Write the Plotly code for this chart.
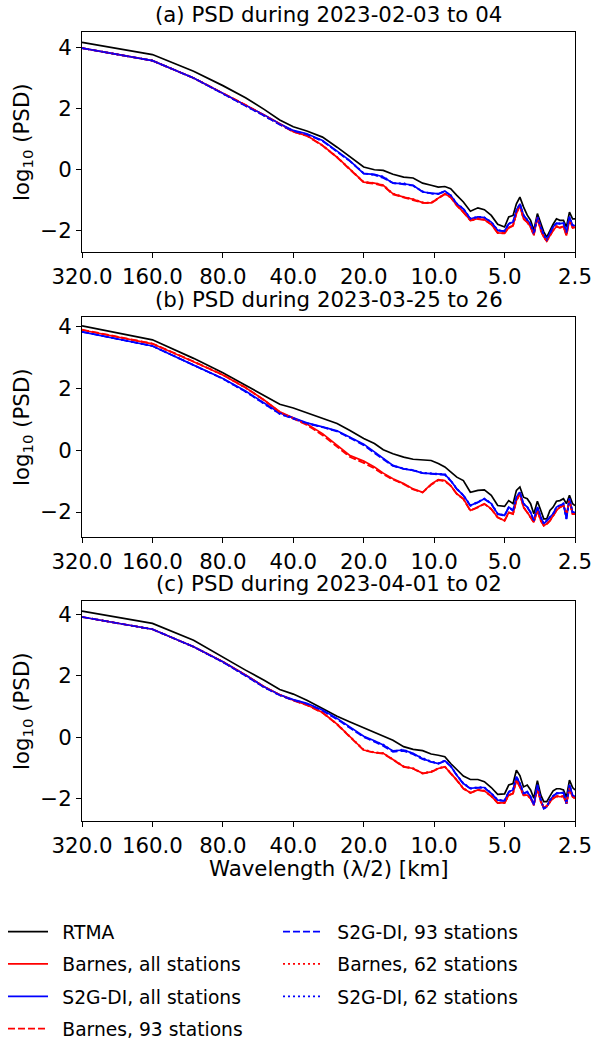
import math
import plotly.graph_objects as go

# ---------------- data ----------------
wavelength_km = [320, 160, 106.7, 80, 64, 53.3, 45.7, 40, 35, 30, 26, 23, 20, 18, 16.5, 15, 13.5,
                 12.3, 11.2, 10.3, 9.6, 9.0, 8.5, 8.0, 7.5, 7.0, 6.5, 6.1, 5.7, 5.35, 5.0, 4.8, 4.6,
                 4.45, 4.3, 4.15, 4.0, 3.87, 3.75, 3.62, 3.5, 3.4, 3.3, 3.2, 3.1, 3.0, 2.9, 2.8, 2.72,
                 2.64, 2.56, 2.5]

x_tick_vals = [320, 160, 80, 40, 20, 10, 5, 2.5]
x_tick_text = ["320.0", "160.0", "80.0", "40.0", "20.0", "10.0", "5.0", "2.5"]
y_tick_vals = [-2, 0, 2, 4]
y_tick_text = ["\u22122", "0", "2", "4"]

series_names = ["RTMA", "Barnes, all stations", "S2G-DI, all stations", "Barnes, 93 stations",
                "S2G-DI, 93 stations", "Barnes, 62 stations", "S2G-DI, 62 stations"]

panel_titles = ["(a) PSD during 2023-02-03 to 04",
                "(b) PSD during 2023-03-25 to 26",
                "(c) PSD during 2023-04-01 to 02"]

# ---- panel (a)
rtma_a = [4.17, 3.77, 3.22, 2.75, 2.35, 1.97, 1.62, 1.40, 1.26, 1.06, 0.73, 0.43, 0.08, -0.01, -0.03, -0.16, -0.25,
          -0.28, -0.45, -0.52, -0.58, -0.56, -0.63, -0.85, -1.07, -1.37, -1.26, -1.32, -1.51, -1.80, -1.89, -1.56, -1.51,
          -1.13, -0.91, -1.23, -1.50, -1.67, -2.00, -1.45, -1.75, -2.05, -2.22, -2.00, -1.80, -1.62, -1.67, -1.67, -1.89,
          -1.40, -1.62, -1.62]
barnes_a = [3.98, 3.57, 3.00, 2.50, 2.13, 1.79, 1.50, 1.24, 1.11, 0.79, 0.40, 0.02, -0.42, -0.45, -0.52, -0.80, -0.91,
            -0.98, -1.09, -1.10, -0.95, -0.80, -0.91, -1.18, -1.40, -1.67, -1.62, -1.65, -1.80, -2.08, -2.09, -1.91, -1.84,
            -1.45, -1.18, -1.62, -1.73, -1.89, -2.16, -1.58, -2.00, -2.22, -2.35, -2.16, -2.00, -1.87, -1.91, -1.87, -2.17,
            -1.67, -1.91, -1.89]
s2g_a = [3.98, 3.57, 3.00, 2.50, 2.13, 1.79, 1.50, 1.28, 1.17, 0.95, 0.60, 0.30, -0.14, -0.16, -0.25, -0.45, -0.47,
         -0.52, -0.74, -0.78, -0.80, -0.71, -0.85, -1.13, -1.29, -1.62, -1.56, -1.58, -1.73, -2.00, -2.02, -1.78, -1.73,
         -1.34, -1.13, -1.50, -1.66, -1.80, -2.11, -1.56, -1.90, -2.15, -2.30, -2.11, -1.89, -1.76, -1.78, -1.76, -2.08,
         -1.56, -1.84, -1.84]
barnes93_a = [3.98, 3.57, 3.00, 2.50, 2.12, 1.77, 1.48, 1.23, 1.10, 0.78, 0.39, 0.00, -0.43, -0.47, -0.54, -0.82, -0.92,
              -0.99, -1.10, -1.11, -0.97, -0.82, -0.92, -1.19, -1.41, -1.68, -1.63, -1.66, -1.81, -2.09, -2.10, -1.92, -1.85,
              -1.46, -1.19, -1.63, -1.74, -1.90, -2.17, -1.59, -2.01, -2.23, -2.36, -2.17, -2.01, -1.88, -1.92, -1.88, -2.18,
              -1.68, -1.92, -1.90]
s2g93_a = [3.98, 3.57, 3.00, 2.49, 2.11, 1.76, 1.47, 1.26, 1.15, 0.93, 0.58, 0.28, -0.13, -0.18, -0.28, -0.44, -0.49,
           -0.53, -0.73, -0.79, -0.81, -0.72, -0.86, -1.14, -1.30, -1.63, -1.57, -1.59, -1.74, -2.01, -2.03, -1.79, -1.74,
           -1.35, -1.14, -1.51, -1.67, -1.81, -2.12, -1.57, -1.91, -2.16, -2.31, -2.12, -1.90, -1.77, -1.79, -1.77, -2.09,
           -1.57, -1.85, -1.85]
barnes62_a = [3.98, 3.57, 3.00, 2.49, 2.12, 1.78, 1.49, 1.24, 1.11, 0.79, 0.41, 0.02, -0.41, -0.44, -0.51, -0.79, -0.90,
              -0.97, -1.08, -1.09, -0.95, -0.80, -0.90, -1.17, -1.39, -1.66, -1.61, -1.64, -1.79, -2.07, -2.08, -1.90, -1.83,
              -1.44, -1.17, -1.61, -1.72, -1.88, -2.15, -1.57, -1.99, -2.21, -2.34, -2.15, -1.99, -1.86, -1.90, -1.86, -2.16,
              -1.66, -1.90, -1.88]
s2g62_a = [3.98, 3.57, 3.00, 2.49, 2.11, 1.76, 1.47, 1.26, 1.15, 0.94, 0.59, 0.29, -0.12, -0.19, -0.23, -0.46, -0.45,
           -0.54, -0.72, -0.80, -0.79, -0.73, -0.84, -1.12, -1.28, -1.61, -1.55, -1.57, -1.72, -1.99, -2.01, -1.77, -1.72,
           -1.33, -1.12, -1.49, -1.65, -1.79, -2.10, -1.55, -1.89, -2.14, -2.29, -2.10, -1.88, -1.75, -1.77, -1.75, -2.07,
           -1.55, -1.83, -1.83]

# ---- panel (b)
rtma_b = [4.03, 3.58, 2.98, 2.51, 2.11, 1.76, 1.49, 1.37, 1.21, 1.05, 0.87, 0.65, 0.38, 0.22, 0.02, -0.11, -0.22,
          -0.29, -0.30, -0.33, -0.43, -0.54, -0.70, -0.87, -0.98, -1.36, -1.30, -1.28, -1.46, -1.79, -1.82, -1.63, -1.73,
          -1.30, -1.19, -1.52, -1.57, -1.73, -2.06, -1.65, -1.95, -2.22, -2.22, -1.95, -1.84, -1.65, -1.63, -1.57, -1.73,
          -1.46, -1.73, -1.79]
barnes_b = [3.90, 3.45, 2.87, 2.44, 2.03, 1.63, 1.25, 1.05, 0.85, 0.54, 0.16, -0.16, -0.35, -0.54, -0.74, -0.92, -1.08,
            -1.25, -1.36, -1.10, -0.95, -0.98, -1.14, -1.41, -1.57, -1.95, -1.84, -1.73, -1.90, -2.17, -2.28, -2.01, -2.06,
            -1.63, -1.41, -1.84, -2.01, -2.17, -2.33, -1.95, -2.28, -2.44, -2.38, -2.28, -2.11, -1.95, -1.84, -1.79, -2.06,
            -1.63, -2.06, -2.06]
s2g_b = [3.84, 3.38, 2.76, 2.33, 1.92, 1.54, 1.21, 1.05, 0.89, 0.76, 0.63, 0.43, 0.20, -0.05, -0.27, -0.49, -0.60,
         -0.65, -0.74, -0.76, -0.76, -0.78, -0.98, -1.25, -1.46, -1.79, -1.68, -1.57, -1.73, -2.06, -2.11, -1.84, -1.95,
         -1.52, -1.36, -1.73, -1.84, -2.01, -2.28, -1.84, -2.17, -2.38, -2.28, -2.17, -2.06, -1.84, -1.79, -1.73, -2.22,
         -1.57, -2.01, -2.01]
barnes93_b = [3.91, 3.46, 2.88, 2.45, 2.04, 1.62, 1.23, 1.02, 0.82, 0.49, 0.11, -0.21, -0.41, -0.59, -0.78, -0.95, -1.10,
              -1.27, -1.37, -1.12, -0.97, -1.00, -1.15, -1.42, -1.58, -1.96, -1.85, -1.74, -1.91, -2.18, -2.29, -2.02, -2.07,
              -1.64, -1.42, -1.85, -2.02, -2.18, -2.34, -1.96, -2.29, -2.45, -2.39, -2.29, -2.12, -1.96, -1.85, -1.80, -2.07,
              -1.64, -2.07, -2.07]
s2g93_b = [3.84, 3.38, 2.76, 2.32, 1.90, 1.51, 1.18, 1.02, 0.87, 0.75, 0.61, 0.41, 0.16, -0.09, -0.29, -0.51, -0.60,
           -0.65, -0.74, -0.77, -0.78, -0.80, -0.99, -1.26, -1.47, -1.80, -1.69, -1.58, -1.74, -2.07, -2.12, -1.85, -1.96,
           -1.53, -1.37, -1.74, -1.85, -2.02, -2.29, -1.85, -2.18, -2.39, -2.29, -2.18, -2.07, -1.85, -1.80, -1.74, -2.23,
           -1.58, -2.02, -2.02]
barnes62_b = [3.90, 3.45, 2.87, 2.44, 2.02, 1.62, 1.24, 1.03, 0.83, 0.51, 0.13, -0.19, -0.39, -0.57, -0.76, -0.94, -1.09,
              -1.26, -1.36, -1.11, -0.96, -0.99, -1.15, -1.41, -1.58, -1.95, -1.84, -1.74, -1.90, -2.17, -2.28, -2.01, -2.06,
              -1.63, -1.41, -1.84, -2.01, -2.17, -2.33, -1.95, -2.28, -2.44, -2.38, -2.28, -2.11, -1.95, -1.84, -1.79, -2.06,
              -1.63, -2.06, -2.06]
s2g62_b = [3.84, 3.38, 2.76, 2.32, 1.90, 1.51, 1.18, 1.03, 0.88, 0.75, 0.62, 0.42, 0.18, -0.07, -0.28, -0.50, -0.59,
           -0.64, -0.73, -0.75, -0.75, -0.77, -0.97, -1.24, -1.45, -1.78, -1.67, -1.56, -1.72, -2.05, -2.10, -1.83, -1.94,
           -1.51, -1.35, -1.72, -1.83, -2.00, -2.27, -1.83, -2.16, -2.37, -2.27, -2.16, -2.05, -1.83, -1.78, -1.72, -2.21,
           -1.56, -2.00, -2.00]

# ---- panel (c)
rtma_c = [4.10, 3.70, 3.15, 2.59, 2.18, 1.85, 1.55, 1.40, 1.20, 0.93, 0.68, 0.50, 0.31, 0.17, 0.04, -0.10, -0.31,
          -0.40, -0.44, -0.55, -0.59, -0.64, -0.86, -1.07, -1.27, -1.38, -1.38, -1.45, -1.64, -1.86, -1.85, -1.56, -1.51,
          -1.08, -1.25, -1.62, -1.56, -1.72, -1.99, -1.42, -1.89, -2.10, -2.10, -1.92, -1.75, -1.68, -1.68, -1.72, -1.96,
          -1.40, -1.64, -1.72]
barnes_c = [3.91, 3.51, 2.94, 2.45, 2.02, 1.64, 1.38, 1.20, 1.05, 0.80, 0.42, 0.02, -0.42, -0.50, -0.53, -0.73, -0.96,
            -1.02, -1.18, -1.13, -1.02, -0.96, -1.16, -1.40, -1.67, -1.81, -1.72, -1.75, -1.92, -2.14, -2.14, -1.89, -1.83,
            -1.40, -1.62, -1.89, -1.89, -1.99, -2.21, -1.67, -2.10, -2.29, -2.24, -2.10, -1.99, -1.92, -1.94, -1.92, -2.16,
            -1.67, -1.94, -1.99]
s2g_c = [3.91, 3.51, 2.94, 2.45, 2.02, 1.64, 1.38, 1.22, 1.10, 0.88, 0.61, 0.34, 0.03, -0.12, -0.26, -0.45, -0.42,
         -0.53, -0.70, -0.80, -0.86, -0.77, -0.94, -1.24, -1.51, -1.67, -1.64, -1.64, -1.83, -2.05, -2.07, -1.78, -1.72,
         -1.29, -1.51, -1.83, -1.78, -1.94, -2.21, -1.56, -2.05, -2.32, -2.27, -2.05, -1.92, -1.83, -1.83, -1.81, -2.16,
         -1.56, -1.89, -1.94]
barnes93_c = [3.91, 3.51, 2.94, 2.45, 2.01, 1.63, 1.37, 1.19, 1.04, 0.79, 0.41, 0.01, -0.43, -0.51, -0.54, -0.74, -0.97,
              -1.03, -1.19, -1.14, -1.03, -0.97, -1.17, -1.41, -1.68, -1.82, -1.73, -1.76, -1.93, -2.15, -2.15, -1.90, -1.84,
              -1.41, -1.63, -1.90, -1.90, -2.00, -2.22, -1.68, -2.11, -2.30, -2.25, -2.11, -2.00, -1.93, -1.95, -1.93, -2.17,
              -1.68, -1.95, -2.00]
s2g93_c = [3.91, 3.51, 2.94, 2.44, 2.00, 1.62, 1.36, 1.20, 1.08, 0.86, 0.58, 0.31, 0.00, -0.15, -0.29, -0.48, -0.45,
           -0.56, -0.72, -0.81, -0.87, -0.78, -0.95, -1.25, -1.52, -1.68, -1.65, -1.65, -1.84, -2.06, -2.08, -1.79, -1.73,
           -1.30, -1.52, -1.84, -1.79, -1.95, -2.22, -1.57, -2.06, -2.33, -2.28, -2.06, -1.93, -1.84, -1.84, -1.82, -2.17,
           -1.57, -1.90, -1.95]
barnes62_c = [3.91, 3.51, 2.94, 2.45, 2.02, 1.64, 1.38, 1.20, 1.05, 0.80, 0.43, 0.03, -0.41, -0.49, -0.52, -0.72, -0.95,
              -1.01, -1.17, -1.12, -1.01, -0.95, -1.15, -1.39, -1.66, -1.80, -1.71, -1.74, -1.91, -2.13, -2.13, -1.88, -1.82,
              -1.39, -1.61, -1.88, -1.88, -1.98, -2.20, -1.66, -2.09, -2.28, -2.23, -2.09, -1.98, -1.91, -1.93, -1.91, -2.15,
              -1.66, -1.93, -1.98]
s2g62_c = [3.91, 3.51, 2.94, 2.44, 2.00, 1.62, 1.36, 1.21, 1.09, 0.87, 0.59, 0.32, 0.01, -0.14, -0.24, -0.46, -0.40,
           -0.55, -0.69, -0.79, -0.85, -0.76, -0.93, -1.23, -1.50, -1.66, -1.63, -1.63, -1.82, -2.04, -2.06, -1.77, -1.71,
           -1.28, -1.50, -1.82, -1.77, -1.93, -2.20, -1.55, -2.04, -2.31, -2.26, -2.04, -1.91, -1.82, -1.82, -1.80, -2.15,
           -1.55, -1.88, -1.93]

panel_series = [
    [rtma_a, barnes_a, s2g_a, barnes93_a, s2g93_a, barnes62_a, s2g62_a],
    [rtma_b, barnes_b, s2g_b, barnes93_b, s2g93_b, barnes62_b, s2g62_b],
    [rtma_c, barnes_c, s2g_c, barnes93_c, s2g93_c, barnes62_c, s2g62_c],
]

# ---------------- styling / layout ----------------
FIG_W, FIG_H = 597, 1042
PLOT_L, PLOT_R = 82, 575
panel_px = [(32, 252), (317, 537), (601, 821)]
y_ranges = [(-2.71, 4.51), (-2.81, 4.32), (-2.73, 4.43)]

colors = ["#000000", "#ff0000", "#0000ff", "#ff0000", "#0000ff", "#ff0000", "#0000ff"]
dashes = ["solid", "solid", "solid", "7px,3px", "7px,3px", "2px,3px", "2px,3px"]
legend_of = ["legend", "legend", "legend", "legend", "legend2", "legend2", "legend2"]

FONT = "DejaVu Sans"
TICK_SIZE = 21.3
LEG_SIZE = 18.7
LEG_PAD = "\u2002"  # small lead-in so legend labels sit where the reference has them


def py(y_px):
    return 1 - y_px / FIG_H


fig = go.Figure()
for p in range(3):
    suf = "" if p == 0 else str(p + 1)
    for s in range(7):
        fig.add_trace(go.Scatter(
            x=wavelength_km, y=panel_series[p][s], mode="lines",
            line=dict(color=colors[s], width=1.7, dash=dashes[s]),
            name=LEG_PAD + series_names[s], legend=legend_of[s], legendgroup=series_names[s],
            showlegend=(p == 0), xaxis="x" + suf, yaxis="y" + suf,
        ))

layout = dict(
    width=FIG_W, height=FIG_H,
    margin=dict(l=0, r=0, t=0, b=0, pad=0, autoexpand=False),
    paper_bgcolor="white", plot_bgcolor="white",
    font=dict(family=FONT, color="black", size=TICK_SIZE),
)

annotations = []
for p in range(3):
    suf = "" if p == 0 else str(p + 1)
    top, bot = panel_px[p]
    layout["xaxis" + suf] = dict(
        domain=[PLOT_L / FIG_W, PLOT_R / FIG_W], anchor="y" + suf, automargin=False,
        type="log", range=[math.log10(320), math.log10(2.5)],
        tickmode="array", tickvals=x_tick_vals, ticktext=x_tick_text,
        ticks="outside", ticklen=5, tickwidth=1, tickcolor="black",
        showline=True, linecolor="black", linewidth=1, mirror=True,
        showgrid=False, zeroline=False,
        tickfont=dict(family=FONT, size=TICK_SIZE, color="black"),
    )
    layout["yaxis" + suf] = dict(
        domain=[py(bot), py(top)], anchor="x" + suf, automargin=False,
        range=list(y_ranges[p]),
        tickmode="array", tickvals=y_tick_vals, ticktext=y_tick_text,
        ticks="outside", ticklen=5, tickwidth=1, tickcolor="black",
        showline=True, linecolor="black", linewidth=1, mirror=True,
        showgrid=False, zeroline=False,
        tickfont=dict(family=FONT, size=TICK_SIZE, color="black"),
    )
    annotations.append(dict(
        text=panel_titles[p], xref="paper", yref="paper",
        x=(PLOT_L + PLOT_R) / 2 / FIG_W, y=py(top), xanchor="center", yanchor="bottom",
        yshift=3, showarrow=False, font=dict(family=FONT, size=TICK_SIZE, color="black"),
    ))
    annotations.append(dict(
        text="log<sub>10</sub> (PSD)", xref="paper", yref="paper",
        x=23 / FIG_W, y=py((top + bot) / 2), xanchor="center", yanchor="middle",
        textangle=-90, showarrow=False, font=dict(family=FONT, size=TICK_SIZE, color="black"),
    ))

annotations.append(dict(
    text="Wavelength (\u03bb/2) [km]", xref="paper", yref="paper",
    x=(PLOT_L + PLOT_R) / 2 / FIG_W, y=py(868), xanchor="center", yanchor="middle",
    showarrow=False, font=dict(family=FONT, size=TICK_SIZE, color="black"),
))
layout["annotations"] = annotations

leg_common = dict(
    xanchor="left", yanchor="top", orientation="v",
    font=dict(family=FONT, size=LEG_SIZE, color="black"),
    bgcolor="rgba(0,0,0,0)", borderwidth=0, tracegroupgap=5,
    traceorder="grouped", itemwidth=40,
)
layout["legend"] = dict(x=3 / FIG_W, y=py(913), **leg_common)
layout["legend2"] = dict(x=278 / FIG_W, y=py(913), **leg_common)

fig.update_layout(**layout)
fig.write_html("out.html")
